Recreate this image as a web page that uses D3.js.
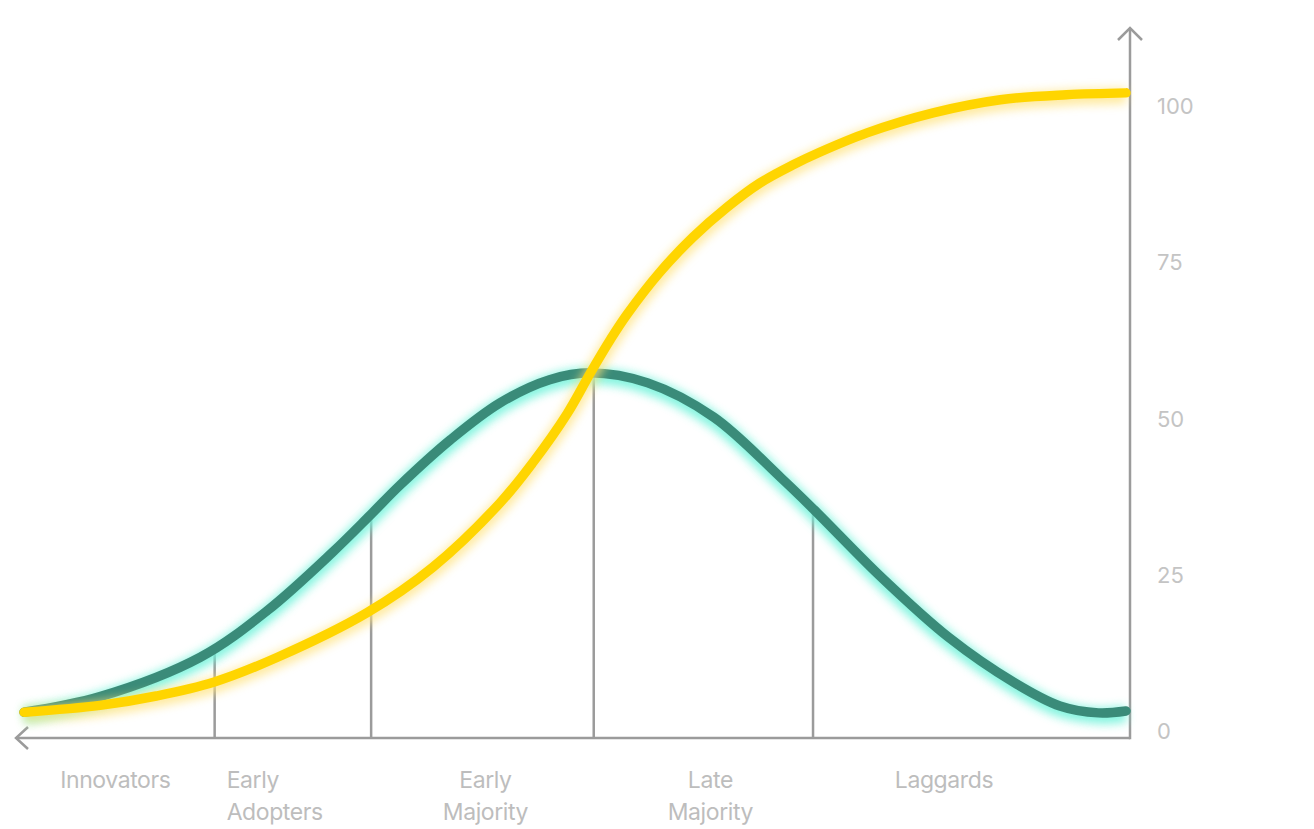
<!DOCTYPE html>
<html lang="en">
<head>
  <meta charset="UTF-8" />
  <title>Diffusion of innovations</title>
  <script src="https://cdn.jsdelivr.net/npm/d3@7/dist/d3.min.js"></script>
  <style>
    html, body { margin: 0; padding: 0; background: #fff; }
    svg { display: block; font-family: Inter, "Noto Sans", sans-serif; }
    .tick-label { fill: #c4c4c4; font-size: 22px; }
    .cat-label { fill: #bdbdbd; font-size: 23px; letter-spacing: -0.4px; }
  </style>
</head>
<body>
<div id="chart"></div>
<script>
// adopter groups and where they split (x in % of time)
const categories = ["Innovators", "Early Adopters", "Early Majority", "Late Majority", "Laggards"];
const dividers = [17.3, 31.5, 51.7, 71.6];
const dividerTops = [13.2, 35.0, 57.3, 35.0];
const yTicks = [0, 25, 50, 75, 100];

// bell curve (adopters per period)
const bellX = [0, 6.9, 16.0, 22.1, 28.0, 31.4, 34.1, 38.7, 43.2, 47.7, 51.4, 56.6, 62.6, 68.7, 71.7, 77.8, 83.9, 89.9, 94.0, 97.5, 100];
const bellY = [3.0, 5.5, 11.8, 19.3, 28.6, 34.5, 39.3, 46.6, 52.5, 56.2, 57.3, 55.7, 50.2, 40.5, 35.4, 24.6, 15.0, 7.7, 4.0, 2.9, 3.2];

// S-curve (market share)
const sX = [0, 6.9, 12.0, 17.2, 23.0, 31.1, 37.1, 43.2, 46.2, 49.3, 51.4, 53.2, 54.7, 57.7, 60.7, 63.8, 66.8, 69.8, 72.2, 76.5, 82.5, 88.6, 94.6, 100];
const sY = [3.0, 4.1, 5.6, 7.8, 11.8, 18.9, 26.2, 36.5, 43.0, 50.8, 57.3, 62.6, 66.6, 73.4, 79.0, 83.8, 87.7, 90.6, 92.6, 95.7, 98.9, 101.0, 101.8, 102.1];

const W = 1314, H = 829;
const svg = d3.select("#chart").append("svg")
  .attr("width", W).attr("height", H);

const x = d3.scaleLinear().domain([0, 100]).range([24, 1126]);
const y = d3.scaleLinear().domain([0, 100]).range([731, 106]);

const axisX = 1130, axisY = 738;
const axisColor = "#9b9b9b";

// blur filter for the glow
const defs = svg.append("defs");
defs.append("filter")
  .attr("id", "blur")
  .attr("filterUnits", "userSpaceOnUse")
  .attr("x", 0).attr("y", 0).attr("width", W).attr("height", H)
  .append("feGaussianBlur").attr("stdDeviation", 5);

// dividers up to the bell curve
svg.selectAll(".divider")
  .data(dividers)
  .enter().append("line")
  .attr("class", "divider")
  .attr("x1", d => x(d)).attr("x2", d => x(d))
  .attr("y1", axisY)
  .attr("y2", (d, i) => y(dividerTops[i]))
  .attr("stroke", axisColor)
  .attr("stroke-width", 2.5);

// axes
svg.append("line")
  .attr("x1", 16).attr("x2", axisX)
  .attr("y1", axisY).attr("y2", axisY)
  .attr("stroke", axisColor).attr("stroke-width", 2.5);
svg.append("line")
  .attr("x1", axisX).attr("x2", axisX)
  .attr("y1", axisY + 1.2).attr("y2", 28)
  .attr("stroke", axisColor).attr("stroke-width", 2.5);
// arrow heads
svg.append("path")
  .attr("d", `M${axisX - 12},40 L${axisX},28 L${axisX + 12},40`)
  .attr("fill", "none").attr("stroke", axisColor).attr("stroke-width", 2.5);
svg.append("path")
  .attr("d", `M28,${axisY - 11} L16,${axisY} L28,${axisY + 11}`)
  .attr("fill", "none").attr("stroke", axisColor).attr("stroke-width", 2.5);

// y tick labels
svg.selectAll(".tick-label")
  .data(yTicks)
  .enter().append("text")
  .attr("class", "tick-label")
  .attr("x", 1157)
  .attr("y", d => y(d))
  .attr("dominant-baseline", "central")
  .text(d => d);

// category labels under each segment (small nudges to match the layout)
const bounds = [0, ...dividers, 95];
const nudge = [-4, 0, 3, 7, 2];
svg.selectAll(".cat-label")
  .data(categories)
  .enter().append("text")
  .attr("class", "cat-label")
  .attr("text-anchor", (d, i) => i === 1 ? "start" : "middle")
  .attr("transform", (d, i) => {
    const cx = i === 1 ? x(bounds[1]) + 12 : (x(bounds[i]) + x(bounds[i + 1])) / 2 + nudge[i];
    return `translate(${cx},788)`;
  })
  .each(function(d) {
    const el = d3.select(this);
    d.split(" ").forEach((w, j) => {
      el.append("tspan").attr("x", 0).attr("y", j * 32).text(w);
    });
  });

// curves
const line = d3.line()
  .x(d => x(d[0]))
  .y(d => y(d[1]))
  .curve(d3.curveCatmullRom.alpha(0.5));

const bell = bellX.map((v, i) => [v, bellY[i]]);
const scurve = sX.map((v, i) => [v, sY[i]]);

svg.append("path")
  .attr("d", line(bell))
  .attr("fill", "none")
  .attr("stroke", "#6ff3da")
  .attr("stroke-width", 16)
  .attr("opacity", 0.85)
  .attr("transform", "translate(0,3)")
  .attr("filter", "url(#blur)");
svg.append("path")
  .attr("d", line(bell))
  .attr("fill", "none")
  .attr("stroke", "#3a8b79")
  .attr("stroke-width", 9.5)
  .attr("stroke-linecap", "round");

svg.append("path")
  .attr("d", line(scurve))
  .attr("fill", "none")
  .attr("stroke", "#ffe27a")
  .attr("stroke-width", 16)
  .attr("opacity", 0.7)
  .attr("transform", "translate(0,3)")
  .attr("filter", "url(#blur)");
svg.append("path")
  .attr("d", line(scurve))
  .attr("fill", "none")
  .attr("stroke", "#ffd500")
  .attr("stroke-width", 9.5)
  .attr("stroke-linecap", "round");
</script>
</body>
</html>
